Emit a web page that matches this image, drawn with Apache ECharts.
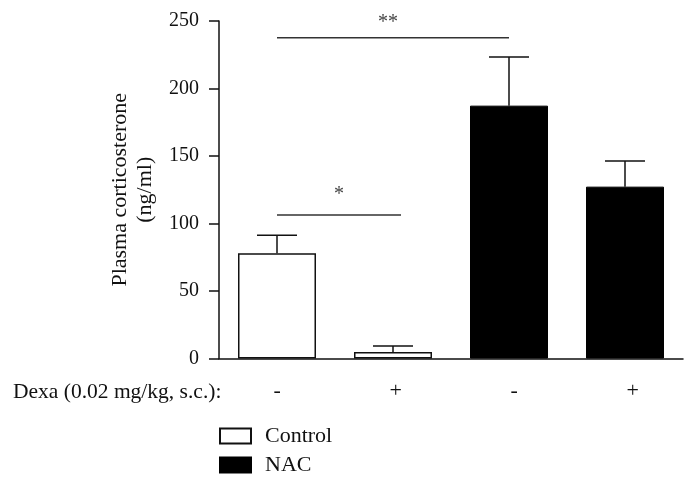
<!DOCTYPE html>
<html>
<head>
<meta charset="utf-8">
<script src="https://cdn.jsdelivr.net/npm/echarts@6/dist/echarts.min.js"></script>
<style>html,body{margin:0;padding:0;background:#fff}#c{width:698px;height:484px}</style>
</head>
<body>
<div id="c"></div>
<script>
var categories = ['C-', 'C+', 'N-', 'N+'];
var dexaLabels = ['-', '+', '-', '+'];
var controlValues = [78, 4.8, '-', '-'];
var nacValues = ['-', '-', 187.3, 127.3];
var errorValues = [13.3, 4.5, 36, 19];
var means = [78, 4.8, 187.3, 127.3];
var sigFrom = [0, 0];
var sigTo = [2, 1];
var sigLevel = [237.6, 106.3];
var sigText = ['**', '*'];
var yTicks = {min: 0, max: 250, interval: 50};

var FONT = '"Liberation Serif", "DejaVu Serif", serif';
var INK = '#111';
var SIG_DX = [-5, 4];
var SIG_DY = [5, 10];

var chart = echarts.init(document.getElementById('c'));

var errData = means.map(function (m, i) { return [i, m, m + errorValues[i]]; });
var sigData = sigFrom.map(function (f, i) { return [f, sigTo[i], sigLevel[i], sigText[i]]; });

chart.setOption({
  animation: false,
  backgroundColor: '#fff',
  textStyle: {fontFamily: FONT, color: INK},
  grid: [
    {left: 219, top: 21, width: 464, bottom: 125.5},
    {left: 218, top: 21, width: 474, bottom: 125.5}
  ],
  legend: {
    orient: 'vertical',
    left: 219,
    top: 425,
    padding: 0,
    itemWidth: 31,
    itemHeight: 15,
    itemGap: 7,
    icon: 'rect',
    data: ['Control', 'NAC'],
    textStyle: {fontFamily: FONT, fontSize: 22, color: INK, padding: [0, 0, 0, 9]}
  },
  xAxis: [
    {
      type: 'category', data: categories, gridIndex: 0,
      axisLine: {lineStyle: {color: INK, width: 1.5}},
      axisTick: {show: false}, axisLabel: {show: false}
    },
    {
      type: 'category', data: dexaLabels, gridIndex: 1,
      axisLine: {show: false}, axisTick: {show: false},
      axisLabel: {fontFamily: FONT, fontSize: 22, color: INK, margin: 22}
    }
  ],
  yAxis: [
    {
      type: 'value', gridIndex: 0, min: yTicks.min, max: yTicks.max, interval: yTicks.interval,
      name: 'Plasma corticosterone\n(ng/ml)',
      nameLocation: 'middle', nameGap: 61, nameRotate: 90,
      nameTextStyle: {fontFamily: FONT, fontSize: 22, color: INK, lineHeight: 25},
      axisLine: {show: true, lineStyle: {color: INK, width: 1.5}},
      axisTick: {show: true, length: 10, lineStyle: {color: INK, width: 1.5}},
      axisLabel: {fontFamily: FONT, fontSize: 20, color: INK, margin: 20},
      splitLine: {show: false}
    },
    {type: 'value', gridIndex: 1, min: 0, max: 250, show: false}
  ],
  graphic: [
    {type: 'text', left: 13, top: 381, style: {text: 'Dexa (0.02 mg/kg, s.c.):', font: '21.5px ' + FONT, fill: INK}}
  ],
  series: [
    {
      name: 'Control', type: 'bar', stack: 'g', data: controlValues, barWidth: 78,
      itemStyle: {color: '#fff', borderColor: INK, borderWidth: 1.5}
    },
    {
      name: 'NAC', type: 'bar', stack: 'g', data: nacValues, barWidth: 78,
      itemStyle: {color: '#000', borderColor: '#000', borderWidth: 1}
    },
    {
      type: 'custom', data: errData, z: 5,
      renderItem: function (params, api) {
        var lo = api.coord([api.value(0), api.value(1)]);
        var hi = api.coord([api.value(0), api.value(2)]);
        var st = {stroke: INK, lineWidth: 1.5};
        return {type: 'group', children: [
          {type: 'line', shape: {x1: lo[0], y1: lo[1], x2: hi[0], y2: hi[1]}, style: st},
          {type: 'line', shape: {x1: hi[0] - 20, y1: hi[1], x2: hi[0] + 20, y2: hi[1]}, style: st}
        ]};
      }
    },
    {
      type: 'custom', data: sigData, z: 5,
      renderItem: function (params, api) {
        var i = params.dataIndex;
        var a = api.coord([api.value(0), api.value(2)]);
        var b = api.coord([api.value(1), api.value(2)]);
        return {type: 'group', children: [
          {type: 'line', shape: {x1: a[0], y1: a[1], x2: b[0] + (i === 1 ? 8 : 0), y2: b[1]}, style: {stroke: '#333', lineWidth: 1.5}},
          {type: 'text', x: (a[0] + b[0]) / 2 + SIG_DX[i], y: a[1] - SIG_DY[i],
           style: {text: sigData[i][3], font: '20px ' + FONT, fill: '#444', align: 'center', verticalAlign: 'bottom'}}
        ]};
      }
    }
  ]
});
</script>
</body>
</html>
